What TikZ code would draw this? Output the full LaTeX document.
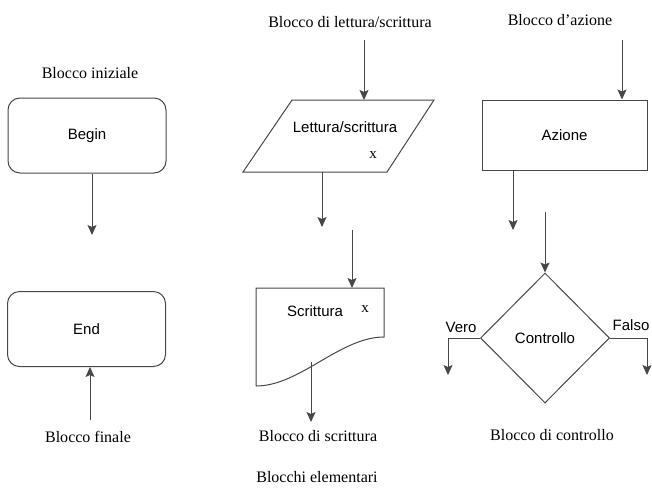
\documentclass[tikz,border=0pt]{standalone}
\usepackage{fontspec}
\setmainfont{Liberation Serif}
\newfontfamily\boxfont{Liberation Sans}
\usetikzlibrary{arrows.meta}
\usetikzlibrary{shapes.geometric}

\tikzset{
    line/.style={draw=black!72, line width=1pt},
    arrow/.style={line, -{Stealth[length=10pt,width=9pt,inset=2pt]}},
    startstop/.style={line, rounded corners=12pt, minimum width=158pt, minimum height=75pt, font=\boxfont\fontsize{15}{18}\selectfont},
    action/.style={line, minimum width=165pt, minimum height=70pt, font=\boxfont\fontsize{15}{18}\selectfont},
    decision/.style={line, diamond, inner sep=0pt, minimum width=129pt, minimum height=130pt, font=\boxfont\fontsize{15}{18}\selectfont},
    boxtext/.style={font=\boxfont\fontsize{15}{18}\selectfont, inner sep=0pt},
    caption/.style={font=\fontsize{16}{19}\selectfont, inner sep=0pt}
}

\begin{document}
\begin{tikzpicture}[x=1pt, y=-1pt]
    \useasboundingbox (0,0) rectangle (652,488);

    % blocco iniziale / finale
    \node[caption] (lbliniziale) at (90,73) {Blocco iniziale};
    \node[startstop] (begin) at (87,135.5) {Begin};
    \coordinate (beginout) at (92,235);
    \draw[arrow] (begin.south -| beginout) -- (beginout);

    \node[startstop] (end) at (86.5,329) {End};
    \coordinate (endin) at (90,420);
    \draw[arrow] (endin) -- (endin |- end.south);
    \node[caption] (lblfinale) at (88,437) {Blocco finale};

    % blocco di lettura/scrittura
    \node[caption] (lbllettura) at (350,22) {Blocco di lettura/scrittura};
    \coordinate (io1) at (243,172);
    \coordinate (io2) at (387,172);
    \coordinate (io3) at (434,100);
    \coordinate (io4) at (292,100);
    \draw[line, line join=miter] (io1) -- (io2) -- (io3) -- (io4) -- cycle;
    \node[boxtext] (iotext) at (345,127) {Lettura/scrittura};
    \node[boxtext] (iox) at (373,155) {\rmfamily x};
    \coordinate (ioin) at (364,40);
    \draw[arrow] (ioin) -- (ioin |- io4);
    \coordinate (ioout) at (322,227);
    \draw[arrow] (ioout |- io1) -- (ioout);

    % blocco di scrittura
    \coordinate (doc1) at (256,288);
    \coordinate (doc2) at (384,288);
    \coordinate (doc3) at (384,337);
    \coordinate (doc4) at (256,386);
    \draw[line, line join=miter] (doc4) -- (doc1) -- (doc2) -- (doc3)
    .. controls (340,337) and (300,386) .. (doc4);
    \node[boxtext] (doctext) at (315,311) {Scrittura};
    \node[boxtext] (docx) at (365,309) {\rmfamily x};
    \coordinate (docin) at (352,230);
    \draw[arrow] (docin) -- (docin |- doc1);
    \coordinate (doccurve) at (311,362);
    \coordinate (docout) at (311,422);
    \draw[arrow] (doccurve) -- (docout);
    \node[caption] (lblscrittura) at (318,436) {Blocco di scrittura};

    \node[caption] (lblelementari) at (317,477) {Blocchi elementari};

    % blocco d'azione
    \node[caption] (lblazione) at (560,20) {Blocco d’azione};
    \node[action] (azione) at (564.5,135) {Azione};
    \coordinate (azin) at (622,40);
    \draw[arrow] (azin) -- (azin |- azione.north);
    \coordinate (azout) at (513,230);
    \draw[arrow] (azout |- azione.south) -- (azout);

    % blocco di controllo
    \node[decision] (controllo) at (545,338) {Controllo};
    \coordinate (ctrlin) at (545,212);
    \draw[arrow] (ctrlin) -- (controllo.north);
    \coordinate (vero) at (448,375);
    \coordinate (falso) at (647,375);
    \draw[arrow] (controllo.west) -| (vero);
    \draw[arrow] (controllo.east) -| (falso);
    \node[boxtext] (lblvero) at (461,327) {Vero};
    \node[boxtext] (lblfalso) at (631,325) {Falso};
    \node[caption] (lblcontrollo) at (552,435) {Blocco di controllo};
\end{tikzpicture}
\end{document}
